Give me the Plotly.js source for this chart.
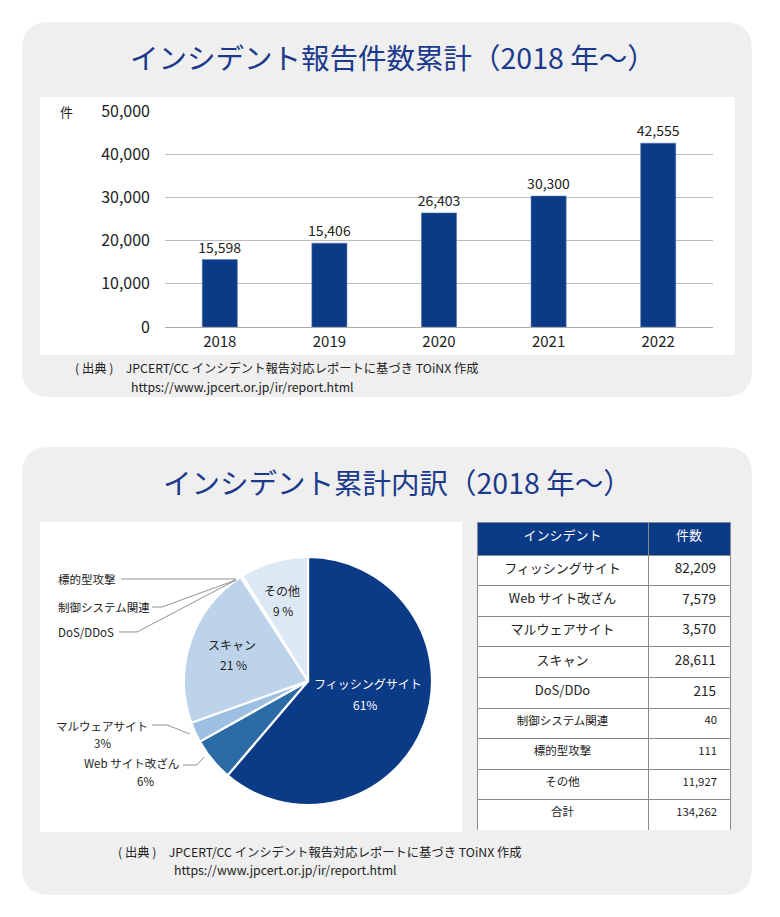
<!DOCTYPE html>
<html><head><meta charset="utf-8">
<script src="https://cdn.plot.ly/plotly-3.0.1.min.js"></script>
<style>html,body{margin:0;padding:0;background:#fff}</style>
</head><body><div id="chart" style="width:780px;height:917px"></div>
<script>
// ---- data ----
const years = ['2018','2019','2020','2021','2022'];
const barValues = [15598, 19406, 26403, 30300, 42555];
const barLabels = ['15,598','15,406','26,403','30,300','42,555'];
const yTicks = [0, 10000, 20000, 30000, 40000, 50000];

const pieNames = ['フィッシングサイト','Web サイト改ざん','マルウェアサイト','スキャン','DoS/DDoS','制御システム関連','標的型攻撃','その他'];
const tableNames = ['フィッシングサイト','Web サイト改ざん','マルウェアサイト','スキャン','DoS/DDo','制御システム関連','標的型攻撃','その他'];
const counts = [82209, 7579, 3570, 28611, 215, 40, 111, 11927];
const pieColors = ['#0b3a87','#2c6ca6','#9dbfe1','#bcd3ea','#c9dbef','#cfdff1','#d5e3f3','#dde8f5'];
const totalLabel = '合計';

const title1 = 'インシデント報告件数累計（2018 年〜）';
const title2 = 'インシデント累計内訳（2018 年〜）';
const source1 = '( 出典 )　JPCERT/CC インシデント報告対応レポートに基づき TOiNX 作成';
const source2 = 'https://www.jpcert.or.jp/ir/report.html';

// ---- helpers ----
const W = 780, H = 917;
const px = x => x / W, py = y => 1 - y / H;
const JP = '"Noto Sans CJK JP", "Noto Sans", sans-serif';
const NUM = '"Noto Sans CJK JP", "Noto Sans", sans-serif';
const NAVY = '#1b3a8c';
function roundRect(x0, y0, x1, y1, r) {
  const X = v => px(v).toFixed(5), Y = v => py(v).toFixed(5);
  return `M${X(x0 + r)},${Y(y0)} L${X(x1 - r)},${Y(y0)} Q${X(x1)},${Y(y0)} ${X(x1)},${Y(y0 + r)} ` +
         `L${X(x1)},${Y(y1 - r)} Q${X(x1)},${Y(y1)} ${X(x1 - r)},${Y(y1)} L${X(x0 + r)},${Y(y1)} ` +
         `Q${X(x0)},${Y(y1)} ${X(x0)},${Y(y1 - r)} L${X(x0)},${Y(y0 + r)} Q${X(x0)},${Y(y0)} ${X(x0 + r)},${Y(y0)} Z`;
}
function rect(x0, y0, x1, y1, fill) {
  return {type:'rect', xref:'paper', yref:'paper', x0:px(x0), x1:px(x1), y0:py(y1), y1:py(y0),
          fillcolor:fill, line:{width:0}, layer:'below'};
}
function poly(pts) {
  return {type:'path', xref:'paper', yref:'paper', layer:'above',
          path: pts.map((p, i) => (i ? 'L' : 'M') + px(p[0]).toFixed(5) + ',' + py(p[1]).toFixed(5)).join(' '),
          line:{color:'#777', width:0.8}};
}
const fmt = n => n.toLocaleString('en-US');
const total = counts.reduce((a, b) => a + b, 0);
const pct = counts.map(c => Math.round(c / total * 100));

// ---- traces ----
const barTrace = {
  type:'bar', x: years, y: barValues, text: barLabels, textposition:'outside', constraintext:'none',
  textfont:{family:NUM, size:14, color:'#222'}, cliponaxis:false,
  marker:{color:'#0b3a87', line:{color:'#5a76ad', width:0.6}}, width:0.32,
  xaxis:'x', yaxis:'y', hoverinfo:'x+y'
};
const pieTrace = {
  type:'pie', labels: pieNames, values: counts, sort:false, direction:'clockwise', rotation:0,
  textinfo:'none', marker:{colors: pieColors, line:{color:'#fff', width:2.2}},
  domain:{x:[px(184), px(432)], y:[py(805), py(557)]}, showlegend:false, hoverinfo:'label+value+percent'
};
const nameSize = tableNames.map((_, i) => i < 5 ? 13 : 11.5).concat([11.5]);
const numSize = tableNames.map((_, i) => i < 5 ? 13.5 : 11.3).concat([11.3]);
const tableTrace = {
  type:'table', domain:{x:[px(477), px(731)], y:[py(830), py(522)]},
  columnwidth:[171, 82],
  header:{values:['インシデント','件数'], align:'center', height:33,
          fill:{color:'#0b3a87'}, line:{color:'#8a8a8a', width:1},
          font:{family:JP, size:13, color:'#fff'}},
  cells:{values:[tableNames.concat([totalLabel]), counts.map(fmt).concat([fmt(total)]).map(s => s + '\u00a0\u00a0')],
         align:['center','right'], height:30.6,
         fill:{color:'#fff'}, line:{color:'#8a8a8a', width:1},
         font:{family:JP, size:[nameSize, numSize], color:'#222'}}
};

// ---- annotations ----
const ann = [];
function txt(x, y, t, size, opts) {
  ann.push(Object.assign({xref:'paper', yref:'paper', x:px(x), y:py(y), text:t, showarrow:false,
    xanchor:'center', yanchor:'middle', font:{family:JP, size:size, color:'#222'}}, opts || {}));
}
txt(393, 57, title1, 28.5, {font:{family:JP, size:28.5, color:NAVY}});
txt(397, 481, title2, 28.5, {font:{family:JP, size:28.5, color:NAVY}});
txt(66, 112, '件', 13);
txt(74, 368.5, source1, 12.3, {xanchor:'left', borderpad:0});
txt(130, 386.5, source2, 12.3, {xanchor:'left', borderpad:0});
txt(117, 851.5, source1, 12.3, {xanchor:'left', borderpad:0});
txt(173, 869.5, source2, 12.3, {xanchor:'left', borderpad:0});

// pie labels
const inner = {0:[368, 683, 365, 704, '#fff'], 3:[232, 644, 233, 664, '#222'], 7:[282, 590, 283, 610, '#222']};
const sfx = ['%','%','%',' %','','','',' %'];
Object.keys(inner).forEach(k => {
  const v = inner[k];
  txt(v[0], v[1], pieNames[k], 12, {font:{family:JP, size:12, color:v[4]}});
  txt(v[2], v[3], pct[k] + sfx[k], 12, {font:{family:JP, size:12, color:v[4]}});
});
txt(56, 579, pieNames[6], 11.5, {xanchor:'left'});
txt(56, 607, pieNames[5], 11.5, {xanchor:'left'});
txt(56, 632, pieNames[4], 11.5, {xanchor:'left'});
txt(150, 726, pieNames[2], 11.5, {xanchor:'right'});
txt(102, 743, pct[2] + sfx[2], 11.5);
txt(181, 763, pieNames[1], 11.5, {xanchor:'right'});
txt(145, 781, pct[1] + sfx[1], 11.5);

// ---- shapes ----
const shapes = [
  {type:'path', xref:'paper', yref:'paper', path:roundRect(22, 22, 752, 397, 28), fillcolor:'#efefef', line:{width:0}, layer:'below'},
  {type:'path', xref:'paper', yref:'paper', path:roundRect(22, 447, 752, 895, 28), fillcolor:'#efefef', line:{width:0}, layer:'below'},
  rect(40, 97, 735, 355, '#fff'),
  rect(40, 522, 462, 832, '#fff'),
  poly([[121, 579], [236, 579]]),
  poly([[152, 607], [162, 607], [236, 580]]),
  poly([[119, 632], [137, 632], [236, 580]]),
  poly([[152, 725], [167, 725], [190, 734]]),
  poly([[183, 765], [197, 765], [204, 757]])
];

const layout = {
  width: W, height: H, margin:{l:0, r:0, t:0, b:0},
  paper_bgcolor:'#fff', plot_bgcolor:'rgba(0,0,0,0)', showlegend:false,
  font:{family:JP, color:'#222'},
  xaxis:{domain:[px(165), px(713)], type:'category', showgrid:false, showline:false, zeroline:false,
         ticks:'', tickfont:{family:NUM, size:15, color:'#222'}, ticklabelstandoff:4, fixedrange:true},
  yaxis:{domain:[py(327), py(111)], range:[0, 50000], tickvals:yTicks, tickformat:',d',
         gridcolor:'#bdbdbd', gridwidth:1, zeroline:true, zerolinecolor:'#aaa', zerolinewidth:1,
         showline:false, ticks:'', tickfont:{family:NUM, size:16, color:'#222'}, ticklabelstandoff:14, fixedrange:true},
  shapes: shapes, annotations: ann
};

Plotly.newPlot('chart', [barTrace, pieTrace, tableTrace], layout, {displayModeBar:false, staticPlot:true});
</script></body></html>
